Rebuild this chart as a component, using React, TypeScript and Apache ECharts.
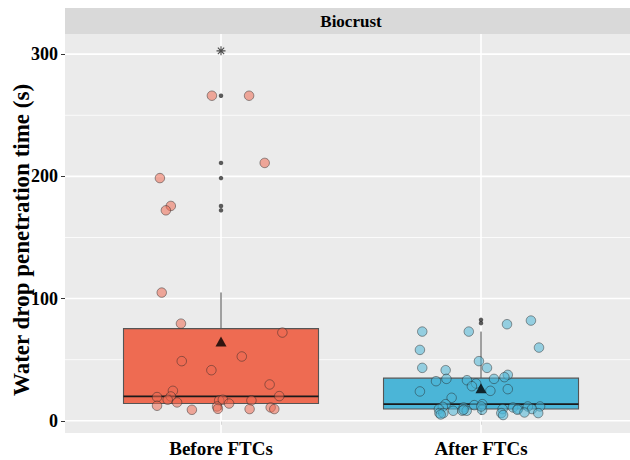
import React, { useEffect, useRef } from 'react';
import * as echarts from 'echarts';

// Facet and group labels
const stripTitle = 'Biocrust';
const groups = ['Before FTCs', 'After FTCs'];
const yTitle = 'Water drop penetration time (s)';

// Axis ticks and grid lines
const yMajor = [0, 100, 200, 300];
const yMinor = [50, 150, 250];
const xPositions = [1, 2];

// Raw observations (s) with their horizontal jitter offsets
const beforeValues = [
  266, 266, 211, 198.6, 175.8, 172.2, 104.9, 79.5, 72.2, 52.6, 48.8, 41.4, 29.7, 24.5, 19.4,
  19.9, 17.2, 20.2, 15, 16.6, 17.2, 14.1, 16.6, 12.3, 9, 11.7, 9.8, 9.6, 10.9, 9.6,
];
const beforeJitter = [
  -0.035, 0.108, 0.168, -0.235, -0.193, -0.212, -0.228, -0.154, 0.236, 0.08, -0.151, -0.037,
  0.187, -0.185, -0.246, -0.193, -0.205, 0.224, -0.169, -0.007, 0.007, 0.031, 0.117, -0.246,
  -0.112, -0.015, -0.012, 0.11, 0.191, 0.205,
];
const afterValues = [
  82, 79, 73, 73, 58, 59.9, 48.8, 43.3, 43.3, 41.4, 37.6, 35.7, 34.3, 34.3, 33.2, 32.4, 30.5,
  28.3, 24.5, 25.9, 24, 18.8, 13.6, 12.8, 13.6, 11.4, 10.9, 10.9, 9.8, 11.7, 11.7, 9.6, 8.2,
  8.2, 8.2, 9, 9.6, 9, 9.6, 6.8, 6.3, 6.3, 6.3, 6.3, 4.7, 5.2, 9, 11.7,
];
const afterJitter = [
  0.192, 0.1, -0.226, -0.047, -0.235, 0.223, -0.008, -0.226, 0.023, -0.136, 0.103, 0.09,
  -0.133, 0.05, -0.054, -0.173, -0.019, -0.035, 0.036, 0.103, -0.235, -0.113, -0.136, -0.026,
  0.005, -0.147, -0.067, 0.123, 0.142, 0.18, 0.227, -0.162, -0.107, -0.072, -0.055, 0.004,
  0.083, 0.14, 0.196, 0.167, 0.22, -0.16, -0.145, 0.078, 0.085, -0.155, -0.067, 0.001,
];

// Box summaries: lower whisker, Q1, median, Q3, upper whisker
const beforeBox = [9, 14.1, 19.9, 75.4, 105];
const afterBox = [4.7, 9.6, 13.6, 34.9, 73];
const beforeOutliers = [172.2, 175.8, 198.6, 211, 266];
const afterOutliers = [79.9, 82.6];
const groupMeans = [64.8, 26.7];
const flaggedMax = [302.7];

const boxFill = ['#EE6B52', '#4BB5D7'];
const pointFill = ['rgba(238,107,82,0.68)', 'rgba(75,181,215,0.68)'];
const FONT = '"Liberation Serif", "Times New Roman", serif';

const asterisk = 'path://M5,0L5,10M0,5L10,5M1.5,1.5L8.5,8.5M1.5,8.5L8.5,1.5';

export default function App() {
  const ref = useRef<HTMLDivElement>(null);

  useEffect(() => {
    if (!ref.current) return;
    const chart = echarts.init(ref.current, undefined, { renderer: 'svg' });

    const boxes = [beforeBox, afterBox].map((b, i) => [xPositions[i], ...b]);
    const jitterData = (vals: number[], jit: number[], pos: number) =>
      vals.map((v, i) => [pos + jit[i], v]);

    // grid line records: [orientation (0 = horizontal, 1 = vertical), value, major flag]
    const gridLines = [
      ...yMinor.map((v) => [0, v, 0]),
      ...yMajor.map((v) => [0, v, 1]),
      ...xPositions.map((v) => [1, v, 1]),
    ];

    const option: any = {
      animation: false,
      backgroundColor: '#ffffff',
      grid: {
        left: 65,
        right: 0,
        top: 34,
        bottom: 27,
        show: true,
        backgroundColor: '#EBEBEB',
        borderWidth: 0,
      },
      xAxis: {
        type: 'value',
        min: 0.4,
        max: 2.573,
        axisLine: { show: false },
        splitLine: { show: false },
        axisTick: {
          show: true,
          customValues: xPositions,
          length: 4,
          lineStyle: { color: '#333', width: 1 },
        },
        axisLabel: {
          customValues: xPositions,
          formatter: (v: number) => groups[Math.round(v) - 1] ?? '',
          color: '#000',
          fontFamily: FONT,
          fontWeight: 'bold',
          fontSize: 19,
          margin: 6,
        },
      },
      yAxis: {
        type: 'value',
        min: -10,
        max: 316.5,
        axisLine: { show: false },
        splitLine: { show: false },
        axisTick: {
          show: true,
          customValues: yMajor,
          length: 4,
          lineStyle: { color: '#333', width: 1 },
        },
        axisLabel: {
          customValues: yMajor,
          color: '#000',
          fontFamily: FONT,
          fontWeight: 'bold',
          fontSize: 18,
          margin: 7,
        },
      },
      graphic: [
        {
          type: 'rect',
          shape: { x: 65, y: 8, width: 565, height: 26 },
          style: { fill: '#D9D9D9' },
          silent: true,
        },
        {
          type: 'text',
          x: 351,
          y: 21,
          style: {
            text: stripTitle,
            fill: '#000',
            font: `bold 17px ${FONT}`,
            textAlign: 'center',
            textVerticalAlign: 'middle',
          },
          silent: true,
        },
        {
          type: 'text',
          x: 21,
          y: 240,
          rotation: Math.PI / 2,
          style: {
            text: yTitle,
            fill: '#000',
            font: `bold 23px ${FONT}`,
            textAlign: 'center',
            textVerticalAlign: 'middle',
          },
          silent: true,
        },
      ],
      series: [
        {
          type: 'custom',
          z: 1,
          silent: true,
          data: gridLines,
          renderItem: (params: any, api: any) => {
            const vertical = api.value(0) === 1;
            const v = api.value(1);
            const major = api.value(2) === 1;
            const cs = params.coordSys;
            let shape;
            if (vertical) {
              const p = api.coord([v, 0]);
              shape = { x1: p[0], y1: cs.y, x2: p[0], y2: cs.y + cs.height };
            } else {
              const p = api.coord([1, v]);
              shape = { x1: cs.x, y1: p[1], x2: cs.x + cs.width, y2: p[1] };
            }
            return {
              type: 'line',
              shape,
              style: { stroke: '#ffffff', lineWidth: major ? 1.6 : 0.8 },
            };
          },
        },
        {
          type: 'custom',
          z: 2,
          silent: true,
          data: boxes,
          encode: { x: 0, y: [1, 2, 3, 4, 5] },
          renderItem: (params: any, api: any) => {
            const x = api.value(0);
            const lo = api.value(1);
            const q1 = api.value(2);
            const med = api.value(3);
            const q3 = api.value(4);
            const hi = api.value(5);
            const half = 0.375;
            const tl = api.coord([x - half, q3]);
            const br = api.coord([x + half, q1]);
            const mL = api.coord([x - half, med]);
            const mR = api.coord([x + half, med]);
            const top = api.coord([x, hi]);
            const q3c = api.coord([x, q3]);
            const q1c = api.coord([x, q1]);
            const bot = api.coord([x, lo]);
            const whisker = { stroke: '#444', lineWidth: 1 };
            return {
              type: 'group',
              children: [
                { type: 'line', shape: { x1: q3c[0], y1: q3c[1], x2: top[0], y2: top[1] }, style: whisker },
                { type: 'line', shape: { x1: q1c[0], y1: q1c[1], x2: bot[0], y2: bot[1] }, style: whisker },
                {
                  type: 'rect',
                  shape: { x: tl[0], y: tl[1], width: br[0] - tl[0], height: br[1] - tl[1] },
                  style: { fill: boxFill[params.dataIndex], stroke: '#555', lineWidth: 1.1 },
                },
                {
                  type: 'line',
                  shape: { x1: mL[0], y1: mL[1], x2: mR[0], y2: mR[1] },
                  style: { stroke: '#1a1a1a', lineWidth: 1.8 },
                },
              ],
            };
          },
        },
        {
          type: 'scatter',
          z: 3,
          symbolSize: 4.5,
          itemStyle: { color: '#333333' },
          data: [
            ...beforeOutliers.map((v) => [xPositions[0], v]),
            ...afterOutliers.map((v) => [xPositions[1], v]),
          ],
        },
        {
          type: 'scatter',
          z: 4,
          symbolSize: 9.5,
          itemStyle: { color: pointFill[0], borderColor: 'rgba(40,40,40,0.75)', borderWidth: 0.8 },
          data: jitterData(beforeValues, beforeJitter, xPositions[0]),
        },
        {
          type: 'scatter',
          z: 4,
          symbolSize: 9.5,
          itemStyle: { color: pointFill[1], borderColor: 'rgba(40,40,40,0.75)', borderWidth: 0.8 },
          data: jitterData(afterValues, afterJitter, xPositions[1]),
        },
        {
          type: 'scatter',
          z: 5,
          symbol: 'triangle',
          symbolSize: [11, 10],
          itemStyle: { color: '#000' },
          data: groupMeans.map((v, i) => [xPositions[i], v]),
        },
        {
          type: 'scatter',
          z: 5,
          symbol: asterisk,
          symbolSize: 9,
          itemStyle: { color: 'none', borderColor: '#222', borderWidth: 1.1 },
          data: flaggedMax.map((v) => [xPositions[0], v]),
        },
      ],
    };

    chart.setOption(option);
    return () => chart.dispose();
  }, []);

  return (
    <div
      ref={ref}
      style={{ position: 'fixed', left: 0, top: 0, width: 630, height: 460 }}
    />
  );
}
